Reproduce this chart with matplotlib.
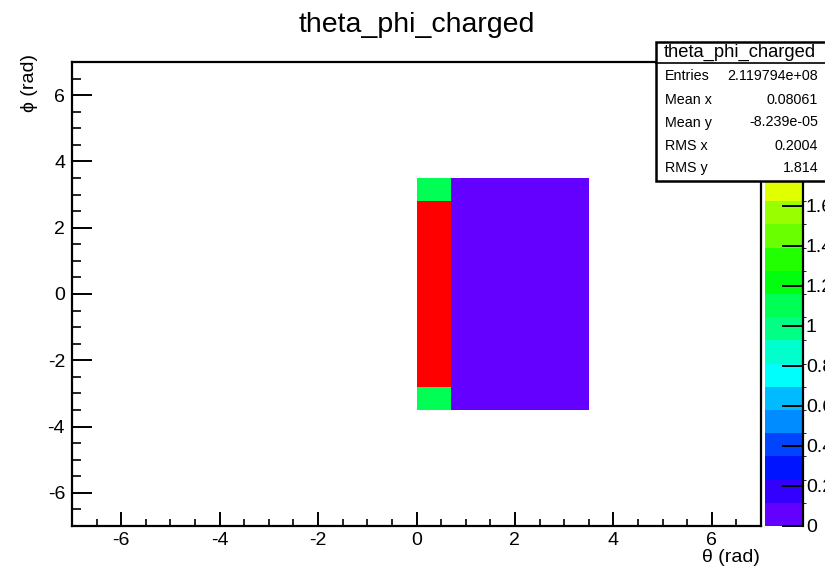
import colorsys
import numpy as np
import matplotlib
matplotlib.use("Agg")
import matplotlib.pyplot as plt
from matplotlib.colors import ListedColormap, BoundaryNorm
from matplotlib.patches import Rectangle
from matplotlib.ticker import MultipleLocator

plt.rcParams["font.family"] = ["Liberation Sans", "DejaVu Sans"]
plt.rcParams["axes.unicode_minus"] = False

# histogram binning: 20 x 20 bins on [-7, 7] in both theta and phi
n_bins = 20
axis_lo, axis_hi = -7.0, 7.0

# filled region starts at theta bin 10 (theta = 0) and phi bin 5 (phi = -3.5)
theta_first_bin = 10
phi_first_bin = 5

# bin contents per theta column, phi going from -3.5 up to 3.5
theta_columns = [
    [1.10, 2.32, 2.32, 2.32, 2.32, 2.32, 2.32, 2.32, 2.32, 1.10],  # 0.0 - 0.7
    [0.05, 0.05, 0.05, 0.05, 0.05, 0.05, 0.05, 0.05, 0.05, 0.05],  # 0.7 - 1.4
    [0.05, 0.05, 0.05, 0.05, 0.05, 0.05, 0.05, 0.05, 0.05, 0.05],  # 1.4 - 2.1
    [0.05, 0.05, 0.05, 0.05, 0.05, 0.05, 0.05, 0.05, 0.05, 0.05],  # 2.1 - 2.8
    [0.05, 0.05, 0.05, 0.05, 0.05, 0.05, 0.05, 0.05, 0.05, 0.05],  # 2.8 - 3.5
]
z_max = 2.32
n_contours = 20
# palette labels above 1.6 sit under the stats box
z_ticks = [0, 0.2, 0.4, 0.6, 0.8, 1.0, 1.2, 1.4, 1.6]

stats_title = "theta_phi_charged"
stats_names = ["Entries", "Mean x", "Mean y", "RMS x", "RMS y"]
stats_values = ["2.119794e+08", "0.08061", "-8.239e-05", "0.2004", "1.814"]


def root_pretty_palette(n_levels, n_colors=50):
    # old ROOT "pretty" palette: HLS hue scan 280 -> 0, picked like THistPainter
    cols = []
    for k in range(n_levels):
        idx = int((k + 0.99) * n_colors / n_levels)
        hue = 280.0 - (idx + 1) * 280.0 / n_colors
        cols.append(colorsys.hls_to_rgb(max(hue, 0) / 360.0, 0.5, 1.0))
    return cols


edges = np.linspace(axis_lo, axis_hi, n_bins + 1)
z = np.zeros((n_bins, n_bins))
for i, col in enumerate(theta_columns):
    for j, v in enumerate(col):
        z[phi_first_bin + j, theta_first_bin + i] = v
z = np.ma.masked_equal(z, 0)

levels = np.linspace(0, z_max, n_contours + 1)
cmap = ListedColormap(root_pretty_palette(n_contours))
cmap.set_over(cmap(n_contours - 1))
norm = BoundaryNorm(levels, cmap.N)

W, H = 825, 570
fig = plt.figure(figsize=(W / 100, H / 100), dpi=100)
ax = fig.add_axes([72 / W, 1 - 526 / H, 689 / W, 464 / H])

mesh = ax.pcolormesh(edges, edges, z, cmap=cmap, norm=norm,
                     antialiased=False, linewidth=0)
ax.set_xlim(axis_lo, axis_hi)
ax.set_ylim(axis_lo, axis_hi)

for s in ax.spines.values():
    s.set_linewidth(1.6)
ax.xaxis.set_major_locator(MultipleLocator(2))
ax.xaxis.set_minor_locator(MultipleLocator(0.5))
ax.yaxis.set_major_locator(MultipleLocator(2))
ax.yaxis.set_minor_locator(MultipleLocator(0.5))
ax.tick_params(axis="x", which="major", direction="in", length=10, width=1.4,
               labelsize=14, pad=4, top=False)
ax.tick_params(axis="x", which="minor", direction="in", length=5, width=1.2, top=False)
ax.tick_params(axis="y", which="major", direction="in", length=14.5, width=1.4,
               labelsize=14, pad=5, right=False)
ax.tick_params(axis="y", which="minor", direction="in", length=6.5, width=1.2, right=False)

fig.text(417 / W, 1 - 25 / H, "theta_phi_charged", ha="center", va="center", fontsize=20.5)
fig.text(760 / W, 1 - 557 / H, "θ (rad)", ha="right", va="center", fontsize=14)
fig.text(30 / W, 1 - 54 / H, "ϕ (rad)", ha="center", va="top", rotation=90, fontsize=14)

# palette axis
cax = fig.add_axes([765 / W, 1 - 526 / H, 38 / W, 464 / H])
cb = fig.colorbar(mesh, cax=cax, boundaries=levels, ticks=z_ticks, extend="neither")
cb.outline.set_visible(False)
cax.plot([1, 1], [0, 1], transform=cax.transAxes, color="k", lw=1.6, clip_on=False)
cax.yaxis.set_ticks_position("right")
cax.set_yticklabels(["%g" % t for t in z_ticks])
cax.tick_params(axis="y", direction="in", length=15, width=1.4, labelsize=14, pad=2)
cax.set_ylim(0, z_max)

# stats box
bx0, by0, bx1, by1 = 656, 42, 832, 181
fig.add_artist(Rectangle((bx0 / W, 1 - by1 / H), (bx1 - bx0) / W, (by1 - by0) / H,
                         transform=fig.transFigure, facecolor="white",
                         edgecolor="black", lw=1.8, zorder=10))
fig.add_artist(plt.Line2D([bx0 / W, 1], [1 - 63 / H, 1 - 63 / H],
                          transform=fig.transFigure, color="black", lw=1.2, zorder=11))
fig.text(740 / W, 1 - 52.5 / H, stats_title, ha="center", va="center",
         fontsize=13.2, zorder=12)
row_y = [76.5, 99.5, 122.5, 145.5, 168.5]
for name, val, yy in zip(stats_names, stats_values, row_y):
    fig.text(665 / W, 1 - yy / H, name, ha="left", va="center", fontsize=10.3, zorder=12)
    fig.text(818 / W, 1 - yy / H, val, ha="right", va="center", fontsize=10.3, zorder=12)

fig.savefig("out.png", dpi=100)
